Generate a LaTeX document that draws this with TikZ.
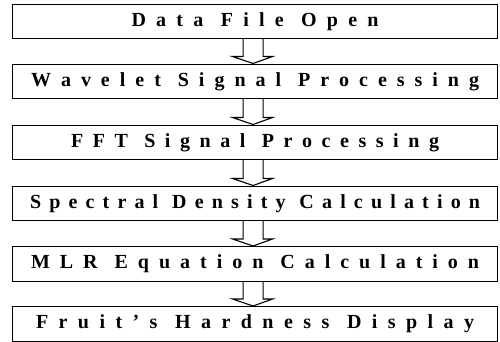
\documentclass[tikz,border=0pt]{standalone}
\usepackage{fontspec}
\setmainfont{Liberation Serif}
\usetikzlibrary{calc}
\ExplSyntaxOn
\NewDocumentCommand\spreadtext{mm}{
  \hbox to #1 {
    \str_map_inline:nn {#2}
      { \str_if_eq:nnTF {##1} {~} { \hskip 0pt plus 0.7fil } { ##1 \hfil } }
    \unskip
  }
}
\ExplSyntaxOff
\tikzset{
  stepbox/.style={draw, line width=1.1pt, minimum width=485pt, minimum height=34.5pt,
    inner sep=0pt, anchor=north west, font=\fontsize{20}{20}\selectfont\bfseries},
  arrowline/.style={line width=1.1pt, line join=miter}
}
\newcommand\flowarrow[2]{%
  \draw[arrowline] ($(#1.south)+(-12,0)$) -- ($(#2.north)+(-12,-7)$) -- ($(#2.north)+(-22.5,-7)$)
    -- ($(#2.north)+(-2,0)$) -- ($(#2.north)+(17.5,-7)$) -- ($(#2.north)+(8,-7)$) -- ($(#1.south)+(8,0)$);}
\begin{document}
\begin{tikzpicture}[x=1pt,y=-1pt]
\useasboundingbox (0,0) rectangle (500,341);
\node[stepbox] (b1) at (12,3.5) {\spreadtext{247pt}{Data File Open}};
\node[stepbox] (b2) at (12,63.5) {\spreadtext{448pt}{Wavelet Signal Processing}};
\node[stepbox] (b3) at (12,124.5) {\spreadtext{368pt}{FFT Signal Processing}};
\node[stepbox] (b4) at (12,185.5) {\spreadtext{450pt}{Spectral Density Calculation}};
\node[stepbox] (b5) at (12,246) {\spreadtext{448pt}{MLR Equation Calculation}};
\node[stepbox] (b6) at (12,306) {\spreadtext{438pt}{Fruit’s Hardness Display}};
\flowarrow{b1}{b2}
\flowarrow{b2}{b3}
\flowarrow{b3}{b4}
\flowarrow{b4}{b5}
\flowarrow{b5}{b6}
\end{tikzpicture}
\end{document}
